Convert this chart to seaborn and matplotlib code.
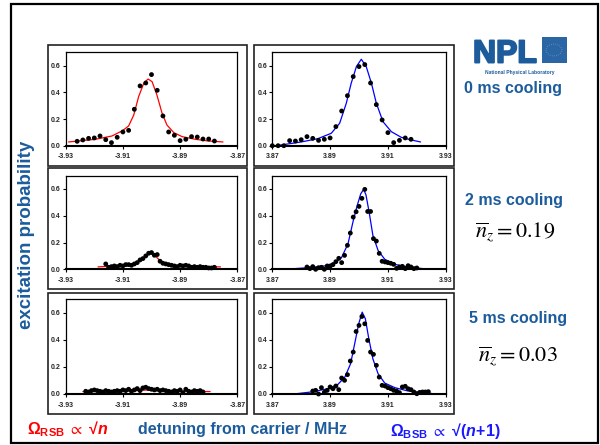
import matplotlib
matplotlib.use("Agg")
import matplotlib.pyplot as plt
import seaborn as sns
from matplotlib.patches import Rectangle, Circle
import matplotlib.patheffects as pe

# ---------- DATA ----------
# red sideband, 0 ms cooling
rsb0_x = [-3.926, -3.924, -3.922, -3.920, -3.918, -3.916, -3.914, -3.912, -3.910, -3.908,
          -3.906, -3.904, -3.902, -3.900, -3.898, -3.896, -3.894, -3.892, -3.890, -3.888,
          -3.886, -3.884, -3.882, -3.880, -3.878]
rsb0_y = [0.033, 0.043, 0.055, 0.058, 0.073, 0.045, 0.023, 0.063, 0.103, 0.115,
          0.273, 0.448, 0.470, 0.533, 0.415, 0.223, 0.103, 0.078, 0.038, 0.048,
          0.068, 0.065, 0.050, 0.050, 0.035]
rsb0_fit_x = [-3.929, -3.9196, -3.9138, -3.9101, -3.9080, -3.9062, -3.9045, -3.9027, -3.9012,
              -3.8998, -3.8981, -3.8963, -3.8946, -3.8922, -3.8893, -3.8847, -3.8800, -3.8750]
rsb0_fit_y = [0.028, 0.048, 0.073, 0.113, 0.148, 0.230, 0.368, 0.468, 0.500,
              0.480, 0.380, 0.243, 0.155, 0.098, 0.068, 0.048, 0.035, 0.028]

# blue sideband, 0 ms cooling
bsb0_x = [3.870, 3.872, 3.874, 3.876, 3.878, 3.880, 3.882, 3.884, 3.886, 3.888,
          3.890, 3.892, 3.894, 3.896, 3.898, 3.900, 3.902, 3.904, 3.906, 3.908,
          3.910, 3.912, 3.914, 3.916, 3.918]
bsb0_y = [0.0, 0.0, 0.0, 0.038, 0.035, 0.045, 0.068, 0.055, 0.040, 0.048,
          0.058, 0.143, 0.260, 0.375, 0.518, 0.593, 0.608, 0.470, 0.308, 0.193,
          0.098, 0.023, 0.040, 0.058, 0.048]
bsb0_fit_x = [3.8723, 3.8800, 3.8858, 3.8904, 3.8933, 3.8956, 3.8973, 3.8991, 3.9008,
              3.9025, 3.9043, 3.9060, 3.9083, 3.9112, 3.9146, 3.9181, 3.9213]
bsb0_fit_y = [0.003, 0.028, 0.053, 0.093, 0.168, 0.318, 0.468, 0.593, 0.648,
              0.593, 0.468, 0.318, 0.180, 0.105, 0.063, 0.043, 0.028]

# red sideband, 2 ms cooling
rsb2_x = [-3.916, -3.915, -3.914, -3.913, -3.912, -3.911, -3.910, -3.909, -3.908, -3.907,
          -3.906, -3.905, -3.904, -3.903, -3.902, -3.901, -3.900, -3.899, -3.898, -3.897,
          -3.896, -3.895, -3.894, -3.893, -3.892, -3.891, -3.890, -3.889, -3.888, -3.887,
          -3.886, -3.885, -3.884, -3.883, -3.882, -3.881, -3.880, -3.879, -3.878]
rsb2_y = [0.040, 0.015, 0.020, 0.025, 0.020, 0.030, 0.025, 0.035, 0.035, 0.030,
          0.040, 0.050, 0.070, 0.080, 0.100, 0.120, 0.125, 0.105, 0.110, 0.060,
          0.045, 0.040, 0.035, 0.030, 0.025, 0.020, 0.030, 0.025, 0.030, 0.025,
          0.015, 0.020, 0.015, 0.020, 0.015, 0.015, 0.010, 0.010, 0.015]
rsb2_fit_x = [-3.9187, -3.912, -3.908, -3.905, -3.903, -3.9015, -3.9005,
              -3.8995, -3.898, -3.8965, -3.894, -3.890, -3.884, -3.8759]
rsb2_fit_y = [0.018, 0.025, 0.035, 0.050, 0.075, 0.105, 0.120,
              0.115, 0.085, 0.055, 0.035, 0.025, 0.020, 0.018]

# blue sideband, 2 ms cooling
bsb2_x = [3.882, 3.883, 3.884, 3.885, 3.886, 3.887, 3.888, 3.889, 3.890, 3.891,
          3.892, 3.893, 3.894, 3.895, 3.896, 3.897, 3.898, 3.899, 3.900, 3.901,
          3.902, 3.903, 3.904, 3.905, 3.906, 3.907, 3.908, 3.909, 3.910, 3.911,
          3.912, 3.913, 3.914, 3.915, 3.916, 3.917, 3.918, 3.919, 3.920]
bsb2_y = [0.017, 0.005, 0.020, 0.000, 0.012, 0.015, 0.000, 0.025, 0.022, 0.035,
          0.057, 0.082, 0.050, 0.104, 0.179, 0.271, 0.390, 0.430, 0.470, 0.530,
          0.597, 0.432, 0.432, 0.229, 0.211, 0.119, 0.060, 0.055, 0.050, 0.045,
          0.037, 0.007, 0.017, 0.022, 0.005, 0.027, 0.017, 0.005, 0.010]
bsb2_fit_x = [3.8778, 3.8824, 3.8881, 3.8916, 3.8939, 3.8962, 3.8979, 3.8994, 3.9006,
              3.9016, 3.9024, 3.9035, 3.9048, 3.9066, 3.9089, 3.9124, 3.9170, 3.9221]
bsb2_fit_y = [0.005, 0.012, 0.025, 0.050, 0.085, 0.191, 0.353, 0.478, 0.564,
              0.597, 0.557, 0.428, 0.254, 0.141, 0.075, 0.037, 0.017, 0.005]

# red sideband, 5 ms cooling
rsb5_x = [-3.923, -3.922, -3.921, -3.920, -3.919, -3.918, -3.917, -3.916, -3.915, -3.914,
          -3.913, -3.912, -3.911, -3.910, -3.909, -3.908, -3.907, -3.906, -3.905, -3.904,
          -3.903, -3.902, -3.901, -3.900, -3.899, -3.898, -3.897, -3.896, -3.895, -3.894,
          -3.893, -3.892, -3.891, -3.890, -3.889, -3.888, -3.887, -3.886, -3.885, -3.884,
          -3.883, -3.882]
rsb5_y = [0.020, 0.015, 0.025, 0.030, 0.025, 0.020, 0.015, 0.025, 0.020, 0.015,
          0.020, 0.025, 0.020, 0.030, 0.025, 0.035, 0.020, 0.030, 0.040, 0.025,
          0.045, 0.050, 0.040, 0.035, 0.030, 0.035, 0.025, 0.030, 0.025, 0.020,
          0.015, 0.025, 0.020, 0.030, 0.010, 0.035, 0.020, 0.015, 0.025, 0.020,
          0.025, 0.015]
rsb5_fit_x = [-3.924, -3.912, -3.905, -3.901, -3.897, -3.890, -3.8795]
rsb5_fit_y = [0.018, 0.020, 0.025, 0.030, 0.025, 0.020, 0.018]

# blue sideband, 5 ms cooling
bsb5_x = [3.884, 3.885, 3.886, 3.887, 3.888, 3.889, 3.890, 3.891, 3.892, 3.893,
          3.894, 3.895, 3.896, 3.897, 3.898, 3.899, 3.900, 3.901, 3.902, 3.903,
          3.904, 3.905, 3.906, 3.907, 3.908, 3.909, 3.910, 3.911, 3.912, 3.913,
          3.914, 3.915, 3.916, 3.917, 3.918, 3.919, 3.920, 3.921, 3.922, 3.923,
          3.924]
bsb5_y = [0.022, 0.027, 0.000, 0.047, 0.012, 0.027, 0.052, 0.039, 0.059, 0.032,
          0.118, 0.101, 0.143, 0.244, 0.310, 0.462, 0.507, 0.573, 0.519, 0.396,
          0.310, 0.293, 0.212, 0.125, 0.064, 0.059, 0.047, 0.039, 0.027, 0.022,
          0.010, 0.052, 0.057, 0.039, 0.032, 0.015, 0.002, 0.012, 0.015, 0.015,
          0.017]
bsb5_fit_x = [3.8783, 3.8835, 3.8893, 3.8927, 3.8951, 3.8971, 3.8985, 3.8999, 3.9011,
              3.9022, 3.9033, 3.9048, 3.9066, 3.9089, 3.9124, 3.9170, 3.9227, 3.9250]
bsb5_fit_y = [0.002, 0.015, 0.039, 0.071, 0.125, 0.224, 0.371, 0.519, 0.605,
              0.556, 0.420, 0.260, 0.150, 0.081, 0.047, 0.022, 0.007, 0.005]

rsb_ticks = [-3.93, -3.91, -3.89, -3.87]
rsb_labels = ["-3.93", "-3.91", "-3.89", "-3.87"]
bsb_ticks = [3.87, 3.89, 3.91, 3.93]
bsb_labels = ["3.87", "3.89", "3.91", "3.93"]
y_ticks = [0.0, 0.2, 0.4, 0.6]
y_labels = ["0.0", "0.2", "0.4", "0.6"]

cooling_labels = ["0 ms cooling", "2 ms cooling", "5 ms cooling"]
nbar_labels = [r"$\overline{n}_z = 0.19$", r"$\overline{n}_z = 0.03$"]

# ---------- STYLE ----------
sns.set_style("white")
plt.rcParams['font.family'] = ['Liberation Sans', 'DejaVu Sans']
plt.rcParams['mathtext.fontset'] = 'custom'
plt.rcParams['mathtext.rm'] = 'Liberation Sans:bold'
plt.rcParams['mathtext.it'] = 'Liberation Sans:italic:bold'
plt.rcParams['mathtext.bf'] = 'Liberation Sans:bold'
plt.rcParams['mathtext.fallback'] = 'stixsans'

NPL_BLUE = "#1c5c9c"
W, H = 600, 445
fig = plt.figure(figsize=(6, 4.45), dpi=100)
fig.patch.set_facecolor("white")


def px_rect(x0, y0, x1, y1):
    # pixel box (top-left origin) -> figure fraction [l, b, w, h]
    return [x0 / W, 1 - y1 / H, (x1 - x0) / W, (y1 - y0) / H]


def px_text(x, y, s, **kw):
    fig.text(x / W, 1 - y / H, s, **kw)


# outer frame
l, b, w, h = px_rect(11, 4, 598, 443)
fig.add_artist(Rectangle((l, b), w, h, transform=fig.transFigure,
                         fill=False, lw=1.6, ec="black"))

col_ax = [(65.7, 237.3), (272.3, 445.7)]
col_box = [(47.7, 246.7), (254.3, 454.3)]
row_ax = [(52.3, 145.7), (175.6, 269.3), (299.3, 394.0)]
row_box = [(45.0, 165.7), (168.3, 289.3), (292.7, 414.3)]

panels = [
    (0, 0, rsb0_x, rsb0_y, rsb0_fit_x, rsb0_fit_y, "#ff0000"),
    (1, 0, bsb0_x, bsb0_y, bsb0_fit_x, bsb0_fit_y, "#0000ff"),
    (0, 1, rsb2_x, rsb2_y, rsb2_fit_x, rsb2_fit_y, "#ff0000"),
    (1, 1, bsb2_x, bsb2_y, bsb2_fit_x, bsb2_fit_y, "#0000ff"),
    (0, 2, rsb5_x, rsb5_y, rsb5_fit_x, rsb5_fit_y, "#ff0000"),
    (1, 2, bsb5_x, bsb5_y, bsb5_fit_x, bsb5_fit_y, "#0000ff"),
]

for col, row, dx, dy, fx, fy, colr in panels:
    l, b, w, h = px_rect(col_box[col][0], row_box[row][0], col_box[col][1], row_box[row][1])
    fig.add_artist(Rectangle((l, b), w, h, transform=fig.transFigure,
                             fill=False, lw=1.2, ec="#222222"))
    ax = fig.add_axes(px_rect(col_ax[col][0], row_ax[row][0], col_ax[col][1], row_ax[row][1]))
    sns.lineplot(x=fx, y=fy, color=colr, lw=0.9, ax=ax, zorder=2)
    sns.scatterplot(x=dx, y=dy, color="black", s=12, edgecolor="none",
                    ax=ax, zorder=3, clip_on=False)
    if col == 0:
        ax.set_xlim(-3.93, -3.87)
        ax.set_xticks(rsb_ticks)
        ax.set_xticklabels(rsb_labels)
    else:
        ax.set_xlim(3.87, 3.93)
        ax.set_xticks(bsb_ticks)
        ax.set_xticklabels(bsb_labels)
    ax.set_ylim(0, 0.7)
    ax.set_yticks(y_ticks)
    ax.set_yticklabels(y_labels)
    ax.set_xlabel("")
    ax.set_ylabel("")
    for lab in ax.get_xticklabels() + ax.get_yticklabels():
        lab.set_fontsize(5)
        lab.set_fontweight("bold")
    ax.tick_params(axis="both", bottom=True, left=True, direction="out",
                   length=2.5, width=0.8, color="black")
    ax.tick_params(axis="x", pad=3)
    ax.tick_params(axis="y", pad=1.2)
    for side, sp in ax.spines.items():
        sp.set_color("black")
        sp.set_linewidth(0.9)
    ax.spines["bottom"].set_linewidth(1.5)

# NPL logo (text version)
px_text(473, 62.5, "NPL", fontsize=23, fontweight="bold", color=NPL_BLUE,
        ha="left", va="baseline",
        path_effects=[pe.withStroke(linewidth=1.4, foreground=NPL_BLUE)])
l, b, w, h = px_rect(541.5, 37, 566.5, 63)
fig.add_artist(Rectangle((l, b), w, h, transform=fig.transFigure,
                         fc="#2a66a4", ec="none"))
fig.add_artist(Circle((554 / W, 1 - 50 / H), 8 / W, transform=fig.transFigure,
                      fill=False, ec="#6f9bcc", lw=0.6, ls=":"))
px_text(520, 72.5, "National Physical Laboratory", fontsize=3.6, fontweight="bold",
        color=NPL_BLUE, ha="center", va="center")

# right side labels
for (x, y), s in zip([(513.5, 93.5), (514, 205), (518.5, 323.3)], cooling_labels):
    px_text(x, y, s, fontsize=11.5, fontweight="bold", color=NPL_BLUE,
            ha="center", va="baseline")
for (x, y), s in zip([(475, 238), (478, 362)], nbar_labels):
    px_text(x, y, s, fontsize=16, color="black", ha="left", va="baseline",
            math_fontfamily="stix")

# axis titles
px_text(26.5, 235, "excitation probability", fontsize=13.5, fontweight="bold",
        color=NPL_BLUE, rotation=90, ha="center", va="center")
px_text(242.5, 434, "detuning from carrier / MHz", fontsize=11.5, fontweight="bold",
        color=NPL_BLUE, ha="center", va="baseline")
px_text(27, 434, "$\\Omega_{\\mathrm{RSB}}\\;\\propto\\;\u221an$", fontsize=11.5,
        color="#ff0000", ha="left", va="baseline")
px_text(390, 436, "$\\Omega_{\\mathrm{BSB}}\\;\\propto\\;\u221a(n\\!+\\!1)$", fontsize=11.5,
        color="#1a1aff", ha="left", va="baseline")

plt.savefig("out.png", dpi=100)
